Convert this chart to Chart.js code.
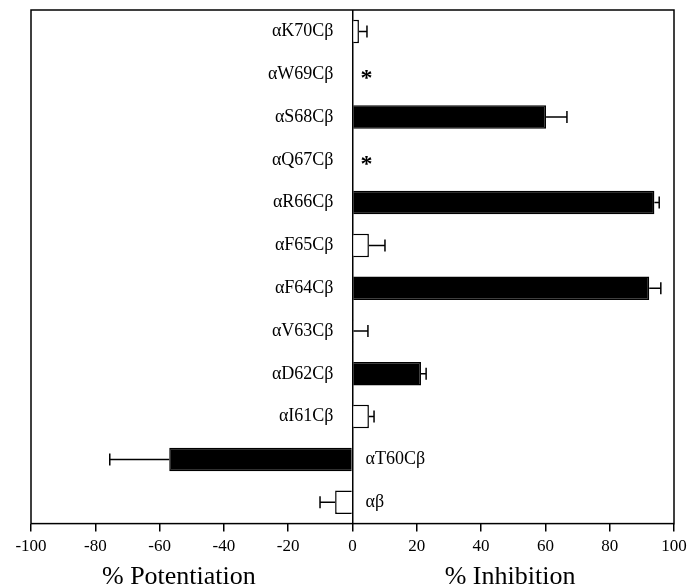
<!DOCTYPE html>
<html>
<head>
<meta charset="utf-8">
<script src="https://cdn.jsdelivr.net/npm/chart.js@4"></script>
<style>
  html, body { margin: 0; padding: 0; background: #fff; }
  #wrap { width: 699px; height: 588px; }
</style>
</head>
<body>
<div id="wrap"><canvas id="mutchart" width="699" height="588"></canvas></div>
<script>
// mutants, top to bottom
const names = ['αK70Cβ', 'αW69Cβ', 'αS68Cβ', 'αQ67Cβ', 'αR66Cβ', 'αF65Cβ', 'αF64Cβ', 'αV63Cβ', 'αD62Cβ', 'αI61Cβ', 'αT60Cβ', 'αβ'];
// % inhibition (negative = potentiation), null = not measured (*)
const value = [2, null, 60.2, null, 93.9, 5.1, 92.3, 0.3, 21.3, 5.1, -57, -5.4];
const sem = [2.5, null, 6.5, null, 1.5, 5, 3.6, 4.5, 1.6, 1.6, 18.5, 4.7];
const filled = [false, null, true, null, true, false, true, false, true, false, true, false];
const xTicks = [-100, -80, -60, -40, -20, 0, 20, 40, 60, 80, 100];
const xTitles = ['% Potentiation', '% Inhibition'];

const serif = '"Liberation Serif", "DejaVu Serif", serif';

var ctx = document.getElementById('mutchart').getContext('2d');

/* error bars, row labels, asterisks, frame, axis titles */
const extras = {
    id: 'extras',
    afterDatasetsDraw(chart) {
        const c = chart.ctx;
        const xs = chart.scales.x;
        const ys = chart.scales.y;
        const area = chart.chartArea;
        const x0 = xs.getPixelForValue(0);
        c.save();
        c.strokeStyle = '#000';
        c.fillStyle = '#000';
        c.lineWidth = 1.5;

        names.forEach((n, i) => {
            const y = ys.getPixelForValue(i);
            const v = value[i];
            if (v !== null) {
                const sgn = v < 0 ? -1 : 1;
                const xa = xs.getPixelForValue(v);
                const xb = xs.getPixelForValue(v + sgn * sem[i]);
                c.beginPath();
                c.moveTo(xa, y);
                c.lineTo(xb, y);
                c.moveTo(xb, y - 6);
                c.lineTo(xb, y + 6);
                c.stroke();
            } else {
                c.font = 'bold 24px ' + serif;
                c.textAlign = 'center';
                c.textBaseline = 'middle';
                c.fillText('*', x0 + 14, y + 5);
            }
            c.font = '18px ' + serif;
            c.textBaseline = 'middle';
            if (v !== null && v < 0) {
                c.textAlign = 'left';
                c.fillText(n, x0 + 13, y);
            } else {
                c.textAlign = 'right';
                c.fillText(n, x0 - 19, y);
            }
        });

        c.lineWidth = 1.5;
        c.strokeRect(area.left, area.top, area.right - area.left, area.bottom - area.top);

        c.font = '26px ' + serif;
        c.textAlign = 'center';
        c.textBaseline = 'alphabetic';
        c.fillText(xTitles[0], xs.getPixelForValue(-54), 584);
        c.fillText(xTitles[1], xs.getPixelForValue(49), 584);
        c.restore();
    }
};

var myChart = new Chart(ctx, {
    type: 'bar',
    data: {
        labels: names,
        datasets: [{
            data: value,
            backgroundColor: filled.map(f => f ? '#000' : '#fff'),
            borderColor: '#000',
            borderWidth: 1.5,
            barPercentage: 0.55,
            categoryPercentage: 1
        }]
    },
    options: {
        indexAxis: 'y',
        responsive: false,
        animation: false,
        layout: { padding: { left: 31, right: 25, top: 10, bottom: 26 } },
        plugins: {
            legend: { display: false },
            tooltip: { enabled: false }
        },
        scales: {
            x: {
                min: -100,
                max: 100,
                afterBuildTicks: (s) => { s.ticks = xTicks.map(v => ({ value: v })); },
                border: { display: false },
                grid: {
                    color: (c) => c.tick && c.tick.value === 0 ? '#000' : 'rgba(0,0,0,0)',
                    lineWidth: 1.5,
                    tickColor: '#000',
                    tickLength: 8,
                    drawTicks: true
                },
                ticks: {
                    color: '#000',
                    padding: 5,
                    font: { family: serif, size: 17 }
                }
            },
            y: {
                display: false
            }
        }
    },
    plugins: [extras]
});
</script>
</body>
</html>
